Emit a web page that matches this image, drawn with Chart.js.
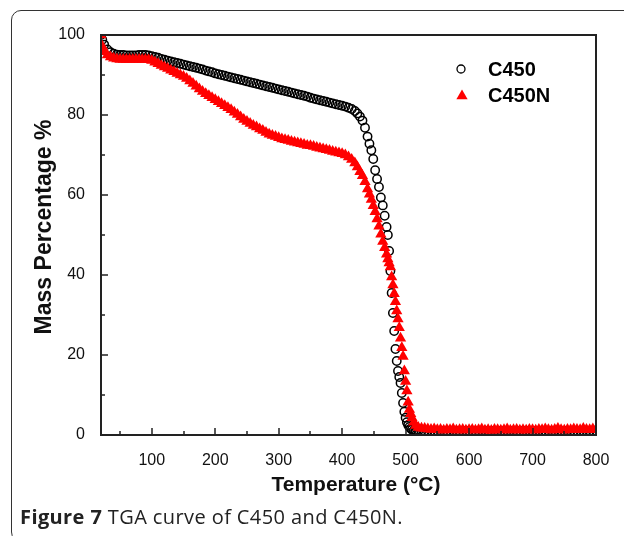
<!DOCTYPE html>
<html>
<head>
<meta charset="utf-8">
<script src="https://cdn.jsdelivr.net/npm/chart.js@4"></script>
<style>
    html, body { margin: 0; padding: 0; background: #fff; }
    #wrap { position: relative; width: 624px; height: 536px; overflow: hidden; }
    #borda {
        position: absolute; left: 11px; top: 10px; width: 700px; height: 530px;
        border: 1.5px solid #333; border-radius: 10px;
    }
    #grafico { position: absolute; left: 0; top: 0; }
    #legenda {
        position: absolute; left: 20px; top: 505px; font: 20px "Open Sans", sans-serif;
        letter-spacing: 0.4px; color: #222; line-height: 24px; white-space: nowrap;
    }
</style>
</head>
<body>
<div id="wrap">
    <div id="borda"></div>
    <canvas id="grafico" width="624" height="536"></canvas>
    <div id="legenda"><b>Figure 7</b> TGA curve of C450 and C450N.</div>
</div>
<script>
// temperatura (°C), compartilhada pelas duas séries
const temperatura = [
    20, 22, 25, 30, 35, 40, 45, 50, 55, 60, 65, 70, 75, 80, 85, 90, 95, 100,
    105, 110, 115, 120, 125, 130, 135, 140, 145, 150, 155, 160, 165, 170, 175, 180, 185, 190, 195, 200,
    205, 210, 215, 220, 225, 230, 235, 240, 245, 250, 255, 260, 265, 270, 275, 280, 285, 290, 295, 300,
    305, 310, 315, 320, 325, 330, 335, 340, 345, 350, 355, 360, 365, 370, 375, 380, 385, 390, 395, 400,
    405, 410, 415, 420, 424, 428, 432, 436, 440, 443, 446, 449, 452, 455, 458, 461, 464, 467, 470, 472,
    474, 476, 478, 480, 482, 484, 486, 488, 490, 492, 494, 496, 498, 500, 502, 504, 506, 508, 510, 513,
    516, 520, 525, 530, 535, 540, 545, 550, 555, 560, 565, 570, 575, 580, 585, 590, 595, 600,
    605, 610, 615, 620, 625, 630, 635, 640, 645, 650, 655, 660, 665, 670, 675, 680, 685, 690, 695, 700,
    705, 710, 715, 720, 725, 730, 735, 740, 745, 750, 755, 760, 765, 770, 775, 780, 785, 790, 795, 800
];

const massaC450 = [
    100, 98.8, 97.6, 96.4, 95.7, 95.3, 95.1, 95.0, 95.0, 94.9, 94.9, 94.9, 94.9, 95.0, 95.0, 95.0, 94.9, 94.7,
    94.5, 94.3, 94.0, 93.8, 93.6, 93.4, 93.2, 93.0, 92.8, 92.6, 92.4, 92.2, 92.0, 91.8, 91.6, 91.4, 91.1, 90.9, 90.7, 90.4,
    90.2, 90.0, 89.8, 89.6, 89.4, 89.2, 89.0, 88.8, 88.6, 88.4, 88.2, 88.0, 87.8, 87.6, 87.4, 87.2, 87.0, 86.8, 86.6, 86.4,
    86.2, 86.0, 85.8, 85.6, 85.4, 85.2, 85.0, 84.8, 84.6, 84.3, 84.1, 83.9, 83.7, 83.5, 83.3, 83.1, 82.9, 82.7, 82.5, 82.3,
    82.1, 81.8, 81.5, 81.0, 80.4, 79.6, 78.6, 76.8, 74.6, 72.8, 71.2, 69.0, 66.2, 64.0, 62.0, 59.4, 57.4, 54.8, 52.0, 50.0,
    46.0, 41.0, 35.5, 30.5, 26.0, 21.5, 18.5, 16.0, 14.5, 13.0, 10.5, 8.0, 5.8, 4.3, 3.2, 2.5, 2.0, 1.6, 1.3, 1.1,
    1.0, 1.0, 1.0, 0.9, 1.0, 1.0, 0.9, 1.0, 1.0, 1.0, 0.9, 1.0, 1.0, 1.0, 0.9, 1.0, 1.0, 1.0,
    1.0, 0.9, 1.0, 1.0, 1.0, 0.9, 1.0, 1.0, 1.0, 1.0, 0.9, 1.0, 1.0, 1.0, 0.9, 1.0, 1.0, 1.0, 1.0, 0.9,
    1.0, 1.0, 1.0, 0.9, 1.0, 1.0, 1.0, 1.0, 0.9, 1.0, 1.0, 1.0, 0.9, 1.0, 1.0, 1.0, 1.0, 0.9, 1.0, 1.0
];

const massaC450N = [
    100, 97.2, 95.8, 95.0, 94.5, 94.2, 94.0, 93.9, 93.9, 93.9, 93.9, 93.9, 93.9, 93.9, 93.9, 93.9, 93.8, 93.6,
    93.2, 92.8, 92.4, 92.0, 91.6, 91.2, 90.8, 90.4, 90.0, 89.6, 89.1, 88.5, 87.9, 87.2, 86.5, 85.9, 85.3, 84.8, 84.3, 83.8,
    83.3, 82.8, 82.3, 81.8, 81.3, 80.7, 80.1, 79.5, 78.9, 78.4, 77.9, 77.4, 77.0, 76.5, 76.1, 75.6, 75.2, 74.9, 74.6, 74.3,
    74.0, 73.8, 73.6, 73.4, 73.2, 73.0, 72.8, 72.6, 72.4, 72.3, 72.1, 71.9, 71.7, 71.5, 71.3, 71.1, 70.9, 70.7, 70.5, 70.3,
    70.0, 69.5, 68.9, 68.0, 67.0, 65.8, 64.8, 63.3, 61.5, 60.2, 58.9, 57.3, 55.8, 54.0, 52.2, 50.2, 48.4, 46.8, 45.2, 44.0,
    43.0, 42.0, 39.5, 37.5, 35.3, 33.3, 31.0, 29.0, 26.8, 24.2, 21.8, 19.6, 16.0, 13.4, 11.0, 8.2, 6.4, 5.3, 4.3, 3.2,
    2.4, 1.9, 1.7, 1.6, 1.5, 1.4, 1.5, 1.3, 1.4, 1.2, 1.4, 1.3, 1.5, 1.2, 1.3, 1.4, 1.2, 1.3,
    1.4, 1.2, 1.3, 1.5, 1.2, 1.3, 1.1, 1.4, 1.3, 1.2, 1.3, 1.5, 1.2, 1.3, 1.4, 1.2, 1.3, 1.2, 1.4, 1.3,
    1.2, 1.4, 1.3, 1.5, 1.3, 1.2, 1.4, 1.6, 1.3, 1.2, 1.4, 1.3, 1.5, 1.4, 1.3, 1.6, 1.4, 1.3, 1.5, 1.4
];

const ticksX = [100, 200, 300, 400, 500, 600, 700, 800];
const ticksXMenores = [50, 150, 250, 350, 450, 550, 650, 750];
const ticksY = [0, 20, 40, 60, 80, 100];
const ticksYMenores = [10, 30, 50, 70, 90];

const fonte = "'Liberation Sans', Arial, sans-serif";
Chart.defaults.font.family = fonte;
Chart.defaults.color = "#111";

function pontos(massas) {
    return temperatura.map((t, i) => ({ x: t, y: massas[i] }));
}

function desenharTriangulo(ctx, x, y, r) {
    ctx.beginPath();
    ctx.moveTo(x, y - r);
    ctx.lineTo(x + Math.sin(2 * Math.PI / 3) * r, y + r / 2);
    ctx.lineTo(x - Math.sin(2 * Math.PI / 3) * r, y + r / 2);
    ctx.closePath();
    ctx.fill();
}

// moldura, ticks internos, títulos dos eixos e legenda
const moldura = {
    id: "moldura",
    afterDraw(chart) {
        const { ctx, chartArea: a, scales: { x, y } } = chart;
        ctx.save();
        ctx.strokeStyle = "#222";
        ctx.lineWidth = 1.5;
        ctx.beginPath();
        ticksX.forEach(v => { const px = Math.round(x.getPixelForValue(v)); ctx.moveTo(px, a.bottom); ctx.lineTo(px, a.bottom - 7); });
        ticksXMenores.forEach(v => { const px = Math.round(x.getPixelForValue(v)); ctx.moveTo(px, a.bottom); ctx.lineTo(px, a.bottom - 4); });
        ticksY.forEach(v => { const py = Math.round(y.getPixelForValue(v)); ctx.moveTo(a.left, py); ctx.lineTo(a.left + 7, py); });
        ticksYMenores.forEach(v => { const py = Math.round(y.getPixelForValue(v)); ctx.moveTo(a.left, py); ctx.lineTo(a.left + 4, py); });
        ctx.stroke();
        ctx.lineWidth = 2;
        ctx.strokeRect(a.left, a.top, a.right - a.left, a.bottom - a.top);

        // títulos
        ctx.fillStyle = "#111";
        ctx.textAlign = "center";
        ctx.textBaseline = "middle";
        ctx.font = "bold 21px " + fonte;
        ctx.fillText("Temperature (°C)", 356, 485);
        ctx.save();
        ctx.translate(45, 227);
        ctx.rotate(-Math.PI / 2);
        ctx.font = "bold 23px " + fonte;
        ctx.fillText("Mass Percentage %", 0, 0);
        ctx.restore();

        // legenda
        ctx.lineWidth = 1.3;
        ctx.strokeStyle = "#000";
        ctx.beginPath();
        ctx.arc(461, 69, 4, 0, Math.PI * 2);
        ctx.stroke();
        ctx.fillStyle = "#ff0000";
        desenharTriangulo(ctx, 462, 96, 6.5);
        ctx.fillStyle = "#000";
        ctx.textAlign = "left";
        ctx.font = "bold 20px " + fonte;
        ctx.fillText("C450", 488, 70);
        ctx.fillText("C450N", 488, 96);
        ctx.restore();
    }
};

new Chart(document.getElementById("grafico").getContext("2d"), {
    type: "scatter",
    data: {
        datasets: [
            {
                label: "C450",
                data: pontos(massaC450),
                pointStyle: "circle",
                pointRadius: 4.2,
                borderWidth: 1.5,
                borderColor: "#000",
                backgroundColor: "rgba(0,0,0,0)",
                order: 2,
                clip: 0
            },
            {
                label: "C450N",
                data: pontos(massaC450N),
                pointStyle: "triangle",
                pointRadius: 6.5,
                borderWidth: 0,
                borderColor: "#ff0000",
                backgroundColor: "#ff0000",
                order: 1,
                clip: 0
            }
        ]
    },
    options: {
        responsive: false,
        animation: false,
        events: [],
        layout: { padding: { left: 0, top: 35, right: 28, bottom: 0 } },
        plugins: { legend: { display: false }, tooltip: { enabled: false } },
        scales: {
            x: {
                type: "linear",
                min: 20,
                max: 800,
                grid: { display: false },
                border: { display: false },
                afterBuildTicks: s => { s.ticks = ticksX.map(v => ({ value: v })); },
                afterFit: s => { s.height = 101; },
                ticks: { font: { size: 16 }, padding: 8, maxRotation: 0 }
            },
            y: {
                min: 0,
                max: 100,
                grid: { display: false },
                border: { display: false },
                afterBuildTicks: s => { s.ticks = ticksY.map(v => ({ value: v })); },
                afterFit: s => { s.width = 101; },
                ticks: { font: { size: 16 }, padding: 8 }
            }
        }
    },
    plugins: [moldura]
});
</script>
</body>
</html>
